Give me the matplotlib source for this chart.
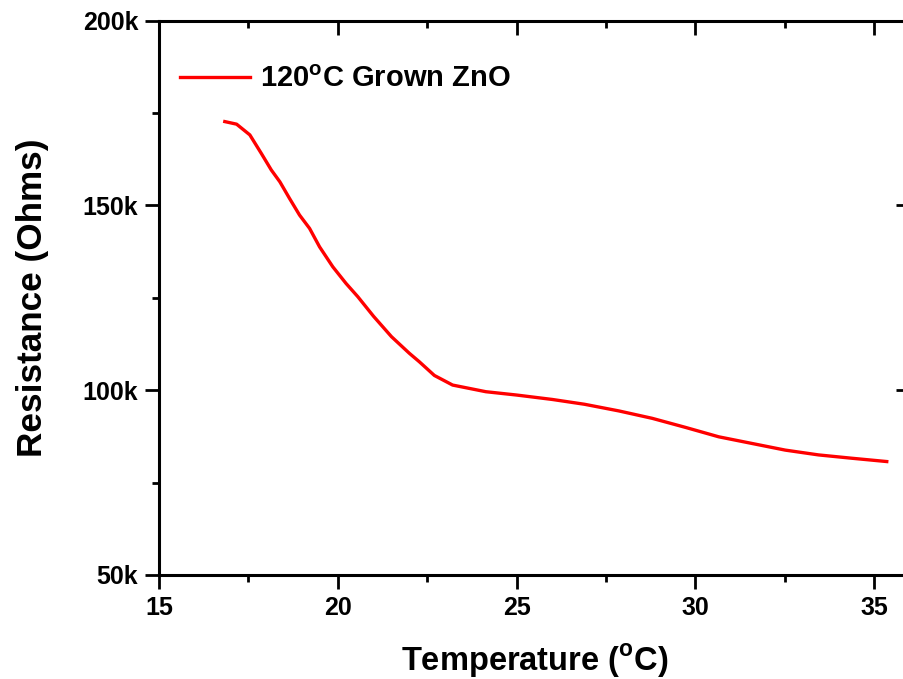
import numpy as np
import matplotlib
matplotlib.use('Agg')
import matplotlib.pyplot as plt
from matplotlib.ticker import MultipleLocator, FuncFormatter

plt.rcParams['font.family'] = ['Liberation Sans', 'DejaVu Sans']
plt.rcParams['font.weight'] = 'bold'
plt.rcParams['mathtext.fontset'] = 'custom'
plt.rcParams['mathtext.rm'] = 'Liberation Sans:bold'
plt.rcParams['mathtext.bf'] = 'Liberation Sans:bold'

# temperature (C) and resistance (Ohms)
temperature = [16.84, 17.17, 17.54, 17.86, 18.14, 18.38, 18.65, 18.93, 19.21,
               19.49, 19.86, 20.23, 20.56, 21.0, 21.5, 22.0, 22.28, 22.7,
               23.21, 24.14, 25.0, 26.0, 26.9, 27.86, 28.79, 29.72, 30.65,
               31.58, 32.51, 33.44, 34.37, 35.35]
resistance = [172.7, 172.0, 169.1, 164.1, 159.6, 156.4, 151.9, 147.4, 143.8,
              138.8, 133.4, 128.9, 125.3, 120.0, 114.5, 110.0, 107.7, 104.0,
              101.4, 99.6, 98.7, 97.5, 96.2, 94.4, 92.4, 89.95, 87.4,
              85.6, 83.8, 82.5, 81.6, 80.7]
resistance = [r * 1000 for r in resistance]

series_label = r'120$^\mathrm{o}$C Grown ZnO'

fig = plt.figure(figsize=(9.04, 6.79), dpi=100)
ax = fig.add_axes([159 / 904, 1 - 575 / 679, 751 / 904, (575 - 20.7) / 679])

ax.plot(temperature, resistance, color='red', lw=2.4, label=series_label)

ax.set_xlim(15, 36)
ax.set_ylim(50000, 200000)
ax.xaxis.set_major_locator(MultipleLocator(5))
ax.xaxis.set_minor_locator(MultipleLocator(2.5))
ax.yaxis.set_major_locator(MultipleLocator(50000))
ax.yaxis.set_minor_locator(MultipleLocator(25000))
ax.yaxis.set_major_formatter(FuncFormatter(lambda v, p: '{:.0f}k'.format(v / 1000)))

for s in ax.spines.values():
    s.set_linewidth(2.2)
ax.tick_params(which='both', direction='out', width=2, labelsize=18, pad=5)
ax.tick_params(which='major', length=10)
ax.tick_params(which='minor', length=5)

# mirrored ticks on top and right, pointing inward
ax_top = ax.secondary_xaxis('top')
ax_top.xaxis.set_major_locator(MultipleLocator(5))
ax_top.xaxis.set_minor_locator(MultipleLocator(2.5))
ax_top.tick_params(which='both', direction='in', width=2, labeltop=False)
ax_top.tick_params(which='major', length=10)
ax_top.tick_params(which='minor', length=5)
ax_right = ax.secondary_yaxis('right')
ax_right.yaxis.set_major_locator(MultipleLocator(50000))
ax_right.yaxis.set_minor_locator(MultipleLocator(25000))
ax_right.tick_params(which='both', direction='in', width=2, labelright=False)
ax_right.tick_params(which='major', length=10)
ax_right.tick_params(which='minor', length=5)

ax.set_xlabel(r'Temperature ($^\mathrm{o}$C)', fontsize=23.5, fontweight='bold', labelpad=16)
ax.set_ylabel('Resistance (Ohms)', fontsize=25.3, fontweight='bold', labelpad=24)

ax.legend(loc='upper left', bbox_to_anchor=(0.028, 0.92), frameon=False,
          fontsize=21, handlelength=2.4, handletextpad=0.35,
          borderpad=0, borderaxespad=0)

fig.savefig('out.png', dpi=100)
